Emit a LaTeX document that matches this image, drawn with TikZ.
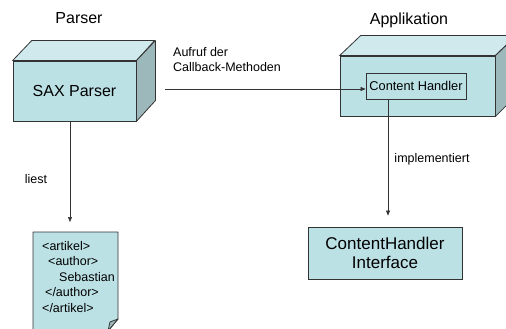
\documentclass[tikz,border=0pt]{standalone}
\usepackage{fontspec}
\setmainfont{Liberation Sans}
\usetikzlibrary{arrows.meta}
\definecolor{faceFront}{HTML}{BCE1E5}
\definecolor{faceTop}{HTML}{CFE9EC}
\definecolor{faceSide}{HTML}{9DB8BA}
\definecolor{edge}{HTML}{333333}
\tikzset{
  front/.style={draw=edge, fill=faceFront, line width=0.8pt, inner sep=0pt},
  topface/.style={draw=edge, fill=faceTop, line width=0.8pt, line join=round},
  sideface/.style={draw=edge, fill=faceSide, line width=0.8pt, line join=round},
  lbl/.style={inner sep=0pt, font=\fontsize{12.5}{15}\selectfont},
  head/.style={inner sep=0pt, font=\fontsize{16}{19}\selectfont},
  conn/.style={draw=black!80, line width=0.6pt, -{Triangle[length=5pt,width=4pt]}},
}
\begin{document}
\begin{tikzpicture}[x=1pt,y=-1pt]
\useasboundingbox (0,0) rectangle (506,329);
\clip (0,0) rectangle (506,329);

% headings
\node[head] (hParser) at (79,18) {Parser};
\node[head] (hAppl) at (409,20) {Applikation};

% SAX parser block
\node[front, minimum width=123pt, minimum height=60pt] (sax) at (74.5,91) {};
\filldraw[topface] (sax.north west) -- ++(19,-20) -- ++(123,0) -- (sax.north east) -- cycle;
\filldraw[sideface] (sax.north east) -- ++(19,-20) -- ++(0,60) -- (sax.south east) -- cycle;
\node[head] (saxText) at (sax.center) {SAX Parser};

% application block
\node[front, minimum width=155pt, minimum height=60pt] (appl) at (417.5,86) {};
\filldraw[topface] (appl.north west) -- ++(21,-20) -- ++(155,0) -- (appl.north east) -- cycle;
\filldraw[sideface] (appl.north east) -- ++(21,-20) -- ++(0,60) -- (appl.south east) -- cycle;
\node[front, minimum width=100pt, minimum height=26pt,
      font=\fontsize{12.8}{15}\selectfont] (ch) at (416,86) {Content Handler};

% interface box
\node[front, minimum width=154pt, minimum height=52pt, align=center,
      font=\fontsize{17}{18.5}\selectfont] (iface) at (385,253) {ContentHandler\\Interface};

% XML document with folded corner
\filldraw[draw=edge, fill=faceFront, line width=0.8pt, line join=round]
  (33,232) -- (118,232) -- (118,319) -- (108,331) -- (33,331) -- cycle;
\filldraw[draw=edge, fill=faceSide, line width=0.8pt, line join=round]
  (118,319) -- (110,322) -- (108,331) -- cycle;
\coordinate (docTop) at (70,232);
\node[lbl, anchor=north west, align=left, font=\fontsize{12.5}{15.5}\selectfont]
  (doc) at (42,241) {<artikel>\\\hspace*{6pt}<author>\\\hspace*{17pt}Sebastian\\\hspace*{3pt}</author>\\</artikel>};

% connectors
\coordinate (saxBottom) at (70,121);
\draw[conn, shorten >=10pt] (saxBottom) -- (docTop);
\node[lbl] (lLiest) at (36,179) {liest};

\coordinate (saxRight) at (165,89);
\draw[conn] (saxRight) -- (saxRight -| ch.west);
\node[lbl, anchor=north west, align=left] (lAufruf) at (173,47) {Aufruf der\\Callback-Methoden};

\coordinate (chBottom) at (388,99);
\draw[conn, shorten >=11pt] (chBottom) -- (chBottom |- iface.north);
\node[lbl] (lImpl) at (432,159) {implementiert};
\end{tikzpicture}
\end{document}
